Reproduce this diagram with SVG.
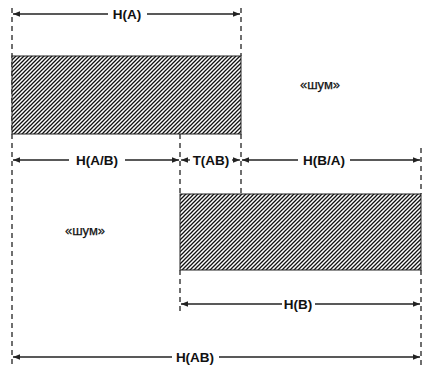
<svg xmlns="http://www.w3.org/2000/svg" width="422" height="370" viewBox="0 0 422 370">
<style>
.dim{stroke:#222;stroke-width:1.3;fill:none}
.dash{stroke:#333;stroke-width:1.4;stroke-dasharray:5,4;fill:none}
.lbl{font-family:"Liberation Sans",Arial,sans-serif;font-weight:bold;font-size:13.5px;fill:#111;text-anchor:middle;dominant-baseline:central}
.noise{font-family:"Liberation Sans",Arial,sans-serif;font-size:13px;fill:#111;stroke:#111;stroke-width:0.25;text-anchor:middle;dominant-baseline:central}
.box{fill:url(#hatch);stroke:#222;stroke-width:1}
</style>
<defs>
<pattern id="hatch" patternUnits="userSpaceOnUse" width="4" height="4">
<rect width="4" height="4" fill="#fff"/>
<path d="M-1,1 l2,-2 M0,4 l4,-4 M3,5 l2,-2" stroke="#111" stroke-width="1.3"/>
</pattern>
<marker id="ah" viewBox="0 0 10 10" refX="10" refY="5" markerWidth="7" markerHeight="7" markerUnits="userSpaceOnUse" orient="auto-start-reverse">
<path d="M0,1 L10,5 L0,9 z" fill="#222"/>
</marker>
</defs>
<g id="guides">
<line class="dash" x1="12" y1="8" x2="12" y2="364"/>
<line class="dash" x1="241" y1="8" x2="241" y2="56"/>
<line class="dash" x1="241" y1="134" x2="241" y2="194"/>
<line class="dash" x1="180" y1="134" x2="180" y2="194"/>
<line class="dash" x1="180" y1="270" x2="180" y2="312"/>
<line class="dash" x1="421" y1="148" x2="421" y2="194"/>
<line class="dash" x1="421" y1="270" x2="421" y2="368"/>
</g>
<g id="blockA"><rect class="box" x="12" y="56" width="229" height="78"/></g>
<g id="blockB"><rect class="box" x="180" y="194" width="241" height="76"/></g>
<g id="connectors">
<line class="dim" x1="108" y1="14" x2="13" y2="14" marker-end="url(#ah)"/>
<line class="dim" x1="147" y1="14" x2="240" y2="14" marker-end="url(#ah)"/>
<line class="dim" x1="69" y1="160" x2="13" y2="160" marker-end="url(#ah)"/>
<line class="dim" x1="125" y1="160" x2="179" y2="160" marker-end="url(#ah)"/>
<line class="dim" x1="190" y1="160" x2="181" y2="160" marker-end="url(#ah)"/>
<line class="dim" x1="232" y1="160" x2="240" y2="160" marker-end="url(#ah)"/>
<line class="dim" x1="298" y1="160" x2="242" y2="160" marker-end="url(#ah)"/>
<line class="dim" x1="350" y1="160" x2="420" y2="160" marker-end="url(#ah)"/>
<line class="dim" x1="282" y1="304" x2="181" y2="304" marker-end="url(#ah)"/>
<line class="dim" x1="315" y1="304" x2="420" y2="304" marker-end="url(#ah)"/>
<line class="dim" x1="172" y1="357" x2="13" y2="357" marker-end="url(#ah)"/>
<line class="dim" x1="219" y1="357" x2="420" y2="357" marker-end="url(#ah)"/>
</g>
<g id="labels">
<text class="lbl" x="127" y="14">H(A)</text>
<text class="lbl" x="97" y="160">H(A/B)</text>
<text class="lbl" x="211" y="160">T(AB)</text>
<text class="lbl" x="324" y="160">H(B/A)</text>
<text class="lbl" x="298" y="304">H(B)</text>
<text class="lbl" x="195" y="357">H(AB)</text>
<text class="noise" x="320" y="84">«шум»</text>
<text class="noise" x="85" y="230">«шум»</text>
</g>
</svg>
